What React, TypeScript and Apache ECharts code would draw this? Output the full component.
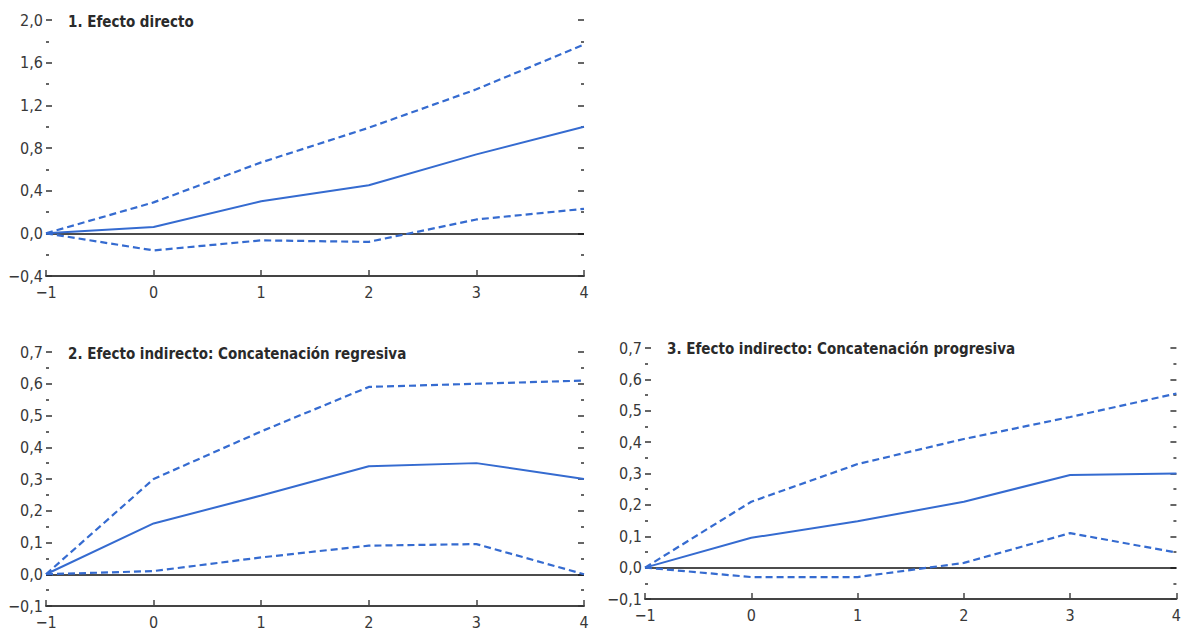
import React, { useEffect, useRef } from "react";
import * as echarts from "echarts";

const horizons = [-1, 0, 1, 2, 3, 4];

const directMid = [0, 0.06, 0.3, 0.45, 0.74, 1.0];
const directUpper = [0, 0.29, 0.665, 0.99, 1.35, 1.77];
const directLower = [0, -0.16, -0.066, -0.08, 0.13, 0.23];

const backwardMid = [0, 0.16, 0.248, 0.34, 0.35, 0.3];
const backwardUpper = [0, 0.3, 0.45, 0.59, 0.6, 0.61];
const backwardLower = [0, 0.01, 0.053, 0.09, 0.095, 0.0];

const forwardMid = [0, 0.095, 0.148, 0.21, 0.295, 0.3];
const forwardUpper = [0, 0.21, 0.33, 0.41, 0.48, 0.555];
const forwardLower = [0, -0.03, -0.03, 0.015, 0.11, 0.048];

const panelTitles = [
  "1. Efecto directo",
  "2. Efecto indirecto: Concatenación regresiva",
  "3. Efecto indirecto: Concatenación progresiva",
];
const yMins = [-0.4, -0.1, -0.1];
const yMaxs = [2.0, 0.7, 0.7];
const yIntervals = [0.4, 0.1, 0.1];

const FONT = "'Liberation Sans Narrow', 'DejaVu Sans Condensed', 'Roboto', sans-serif";
const BLUE = "#356bd0";
const TEXT = "#383838";

const grids = [
  { left: 46, top: 20, width: 538, height: 256 },
  { left: 46, top: 352, width: 538, height: 254 },
  { left: 645, top: 348, width: 533, height: 251 },
];
const titlePos = [
  { left: 68, top: 14 },
  { left: 68, top: 346 },
  { left: 667, top: 341 },
];

const fmtNum = (v: number) => v.toFixed(1).replace(".", ",").replace("-", "\u2212");
const fmtInt = (v: number) => String(Math.round(v)).replace("-", "\u2212");

const pairs = (ys: number[]) => horizons.map((x, i) => [x, ys[i]]);

export default function App() {
  const ref = useRef<HTMLDivElement>(null);
  useEffect(() => {
    if (!ref.current) return;
    const chart = echarts.init(ref.current, undefined, { renderer: "svg" });
    const sets = [
      [directMid, directUpper, directLower],
      [backwardMid, backwardUpper, backwardLower],
      [forwardMid, forwardUpper, forwardLower],
    ];
    const xAxis: any[] = [];
    const yAxis: any[] = [];
    const series: any[] = [];
    grids.forEach((_, g) => {
      xAxis.push({
        type: "value",
        gridIndex: g,
        min: -1,
        max: 4,
        interval: 1,
        position: "bottom",
        axisLine: { show: true, onZero: false, lineStyle: { color: "#444", width: 2 } },
        axisTick: { show: true, inside: true, length: 6, lineStyle: { color: "#444", width: 1.5 } },
        axisLabel: { show: true, margin: 8, color: TEXT, fontSize: 16, fontFamily: FONT, formatter: fmtInt },
        splitLine: { show: false },
      });
      const common = {
        type: "value",
        gridIndex: g,
        min: yMins[g],
        max: yMaxs[g],
        interval: yIntervals[g],
        axisLine: { show: false, onZero: false },
        axisTick: { show: true, inside: true, length: 6, lineStyle: { color: "#333", width: 1.5 } },
        minorTick: { show: true, splitNumber: 2, length: 3, lineStyle: { color: "#333", width: 1.5 } },
        splitLine: { show: false },
      };
      yAxis.push({
        ...common,
        position: "left",
        axisLabel: { show: true, margin: 3, color: TEXT, fontSize: 16, fontFamily: FONT, formatter: fmtNum },
      });
      yAxis.push({
        ...common,
        position: "right",
        axisLabel: { show: false },
      });
      const [mid, up, lo] = sets[g];
      series.push({
        type: "line",
        xAxisIndex: g,
        yAxisIndex: g * 2,
        data: pairs(mid),
        symbol: "none",
        lineStyle: { color: BLUE, width: 2 },
        z: 3,
        markLine: {
          silent: true,
          symbol: "none",
          label: { show: false },
          lineStyle: { color: "#111", width: 1.5, type: "solid" },
          data: [{ yAxis: 0 }],
          z: 2,
        },
      });
      [up, lo].forEach((band) => {
        series.push({
          type: "line",
          xAxisIndex: g,
          yAxisIndex: g * 2,
          data: pairs(band),
          symbol: "none",
          lineStyle: { color: BLUE, width: 2.2, type: [7, 4] },
          z: 3,
        });
      });
    });
    chart.setOption({
      animation: false,
      backgroundColor: "#ffffff",
      title: panelTitles.map((t, i) => ({
        text: t,
        left: titlePos[i].left,
        top: titlePos[i].top,
        padding: 0,
        textStyle: { fontSize: 15, fontWeight: "bold", color: "#2a2a2a", fontFamily: FONT },
      })),
      grid: grids.map((g) => ({ ...g, containLabel: false })),
      xAxis,
      yAxis,
      series,
    });
    return () => chart.dispose();
  }, []);
  return (
    <div
      ref={ref}
      style={{ position: "fixed", left: 0, top: 0, width: 1184, height: 632, background: "#fff" }}
    />
  );
}
